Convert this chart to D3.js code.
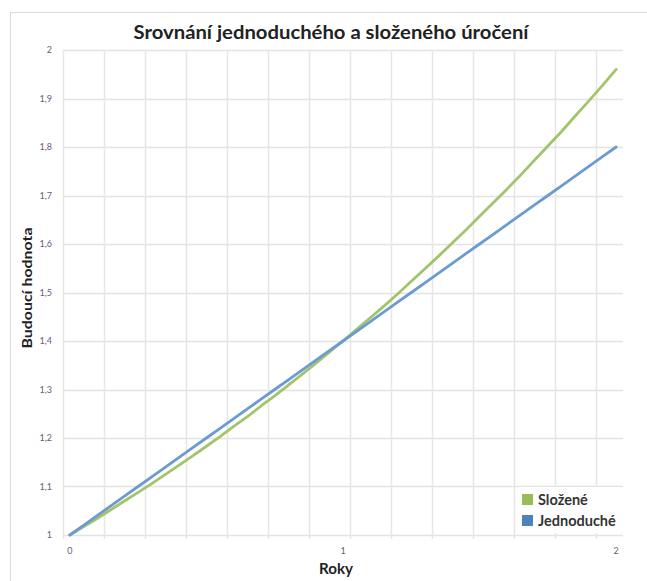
<!DOCTYPE html>
<html><head><meta charset="utf-8">
<script src="https://cdn.jsdelivr.net/npm/d3@7"></script>
<style>body{margin:0;background:#fff}svg{display:block}</style>
</head><body>
<script>
const years = [0,0.05,0.1,0.15,0.2,0.25,0.3,0.35,0.4,0.45,0.5,0.55,0.6,0.65,0.7,0.75,0.8,0.85,0.9,0.95,1,1.05,1.1,1.15,1.2,1.25,1.3,1.35,1.4,1.45,1.5,1.55,1.6,1.65,1.7,1.75,1.8,1.85,1.9,1.95,2];
const slozene = [1,1.017,1.034,1.052,1.070,1.088,1.106,1.125,1.144,1.163,1.183,1.203,1.224,1.244,1.266,1.287,1.309,1.331,1.354,1.377,1.400,1.424,1.448,1.472,1.497,1.523,1.549,1.575,1.602,1.629,1.657,1.685,1.713,1.742,1.772,1.802,1.832,1.864,1.895,1.927,1.960];
const jednoduche = [1,1.02,1.04,1.06,1.08,1.10,1.12,1.14,1.16,1.18,1.20,1.22,1.24,1.26,1.28,1.30,1.32,1.34,1.36,1.38,1.40,1.42,1.44,1.46,1.48,1.50,1.52,1.54,1.56,1.58,1.60,1.62,1.64,1.66,1.68,1.70,1.72,1.74,1.76,1.78,1.80];
const yTicks = [1,1.1,1.2,1.3,1.4,1.5,1.6,1.7,1.8,1.9,2];
const xTickLabels = ["0","1","2"];
const seriesNames = ["Složené","Jednoduché"];
const seriesColors = ["#9bbb59","#4f81bd"];

const W=647,H=581;
const svg=d3.select("body").append("svg").attr("width",W).attr("height",H);
const font="Lato, 'Open Sans', sans-serif";
svg.append("rect").attr("x",10.5).attr("y",12.5).attr("width",700).attr("height",700).attr("fill","#fff").attr("stroke","#d9d9d9");

const L=63,R=623,T=50,B=535;
const band=d3.scaleBand().domain(years.map((d,i)=>i)).range([L,R]);
const x=i=>band(i)+band.bandwidth()/2;
const y=d3.scaleLinear().domain([1,2]).range([B,T]);

// horizontal gridlines
svg.append("g").selectAll("line").data(yTicks).join("line")
 .attr("x1",L).attr("x2",R).attr("y1",d=>Math.round(y(d))+0.5).attr("y2",d=>Math.round(y(d))+0.5)
 .attr("stroke","#e3e3e3").attr("stroke-width",1.5);
// vertical gridlines every 3 categories
const vIdx=d3.range(0,years.length,3);
svg.append("g").selectAll("line").data(vIdx).join("line")
 .attr("x1",d=>Math.round(band(d))+0.5).attr("x2",d=>Math.round(band(d))+0.5).attr("y1",T).attr("y2",B+4)
 .attr("stroke","#e6e6e6").attr("stroke-width",1.5);

// y tick labels
svg.append("g").selectAll("text").data(yTicks).join("text")
 .attr("x",52).attr("y",d=>y(d)+3).attr("text-anchor","end")
 .attr("font-family",font).attr("font-size",9).attr("fill","#6a5a78")
 .text(d=>d3.format(".1f")(d).replace(".0","").replace(".",","));
// x tick labels
svg.append("g").selectAll("text").data(xTickLabels).join("text")
 .attr("x",d=>x(years.indexOf(+d))).attr("y",554).attr("text-anchor","middle")
 .attr("font-family",font).attr("font-size",9).attr("fill","#6a5a78").text(d=>d);

// lines
const line=d3.line().x((d,i)=>x(i)).y(d=>y(d));
[slozene,jednoduche].forEach((s,k)=>{
 svg.append("path").datum(s).attr("d",line).attr("fill","none")
  .attr("stroke",k==0?"#a3c46a":"#6b9bd1").attr("stroke-width",2.8).attr("stroke-linejoin","round").attr("stroke-linecap","round");
});

// titles
svg.append("text").attr("x",331).attr("y",39).attr("text-anchor","middle")
 .attr("font-family",font).attr("font-weight","bold").attr("font-size",18).attr("fill","#222")
 .attr("textLength",395).attr("lengthAdjust","spacingAndGlyphs")
 .text("Srovnání jednoduchého a složeného úročení");
svg.append("text").attr("transform","translate(32,288) rotate(-90)").attr("text-anchor","middle")
 .attr("font-family",font).attr("font-weight","bold").attr("font-size",14).attr("fill","#222")
 .attr("textLength",121).attr("lengthAdjust","spacingAndGlyphs")
 .text("Budoucí hodnota");
svg.append("text").attr("x",336).attr("y",574).attr("text-anchor","middle")
 .attr("font-family",font).attr("font-weight","bold").attr("font-size",14.5).attr("fill","#222")
 .attr("textLength",34).attr("lengthAdjust","spacingAndGlyphs")
 .text("Roky");

// legend
const lg=svg.append("g");
lg.append("rect").attr("x",518).attr("y",487).attr("width",106).attr("height",46).attr("fill","#fff");
seriesNames.forEach((n,k)=>{
 lg.append("rect").attr("x",522).attr("y",494+k*21).attr("width",11).attr("height",11).attr("fill",seriesColors[k]);
 lg.append("text").attr("x",538).attr("y",505+k*21).attr("font-family",font).attr("font-weight","bold")
  .attr("font-size",14.5).attr("fill","#333").text(n);
});
</script>
</body></html>
